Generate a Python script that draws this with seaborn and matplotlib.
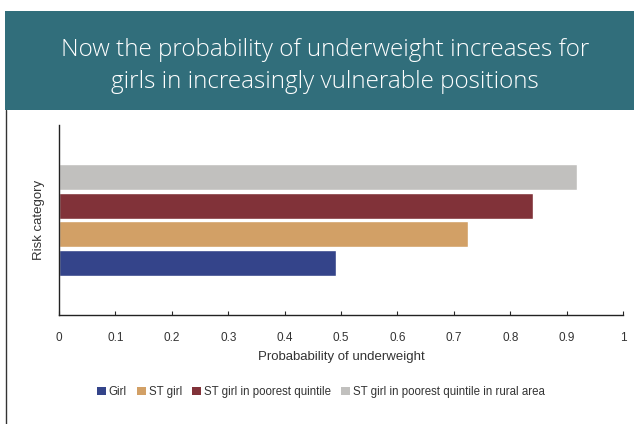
import matplotlib
matplotlib.use("Agg")
import matplotlib.pyplot as plt
from matplotlib.patches import Patch, Rectangle
from matplotlib.lines import Line2D
import pandas as pd
import seaborn as sns

# Data
groups = ["Girl", "ST girl", "ST girl in poorest quintile",
          "ST girl in poorest quintile in rural area"]
probabilities = [0.491, 0.725, 0.840, 0.918]
colors = ["#34448A", "#D2A066", "#813239", "#C1C0BE"]
x_ticks = [0, 0.1, 0.2, 0.3, 0.4, 0.5, 0.6, 0.7, 0.8, 0.9, 1]
x_tick_labels = ["0", "0.1", "0.2", "0.3", "0.4", "0.5", "0.6", "0.7", "0.8", "0.9", "1"]

title = "Now the probability of underweight increases for\ngirls in increasingly vulnerable positions"

sns.set_style("white")
plt.rcParams["font.family"] = ["Liberation Sans", "DejaVu Sans"]

df = pd.DataFrame({"group": groups, "prob": probabilities, "cat": ["Risk"] * len(groups)})
palette = dict(zip(groups, colors))

fig = plt.figure(figsize=(6.34, 4.24), dpi=100)

# title banner
fig.patches.append(Rectangle((5 / 634, 1 - 110 / 424), 1, 99 / 424, transform=fig.transFigure,
                             facecolor="#316E7B", edgecolor="none", zorder=0))
fig.text(0.513, 1 - 66 / 424, title, ha="center", va="center", color="white",
         fontsize=17.5, linespacing=1.4, family=["Open Sans", "DejaVu Sans"],
         fontweight="light")
# left border line
fig.add_artist(Line2D([5.5 / 634, 5.5 / 634], [0, 1 - 110 / 424], transform=fig.transFigure,
                      color="#333333", linewidth=1))

ax = fig.add_axes([59 / 634, 109 / 424, 564 / 634, 190 / 424])
sns.barplot(data=df, x="prob", y="cat", hue="group", hue_order=groups[::-1],
            palette=palette, orient="h", width=0.6, gap=0.1, saturation=1,
            legend=False, ax=ax)

ax.set_xlim(0, 1)
ax.set_ylim(0.5, -0.5)
ax.set_xticks(x_ticks)
ax.set_xticklabels(x_tick_labels, fontsize=8.5, color="#333333")
ax.set_yticks([])
ax.tick_params(axis="x", direction="in", length=3, width=0.8, pad=12, bottom=True)
ax.set_xlabel("Probabability of underweight", fontsize=9.5, color="#333333", labelpad=5)
ax.set_ylabel("Risk category", fontsize=9.5, color="#333333", labelpad=10)
for side in ["top", "right"]:
    ax.spines[side].set_visible(False)
for side in ["left", "bottom"]:
    ax.spines[side].set_color("#222222")
    ax.spines[side].set_linewidth(1)

handles = [Patch(facecolor=c, edgecolor="none") for c in colors]
fig.legend(handles, groups, loc="center", bbox_to_anchor=(0.506, 1 - 392 / 424), ncol=4,
           frameon=False, fontsize=8.3, handlelength=0.75, handleheight=0.75,
           handletextpad=0.25, columnspacing=0.9, labelcolor="#333333")

fig.savefig("out.png", dpi=100)
